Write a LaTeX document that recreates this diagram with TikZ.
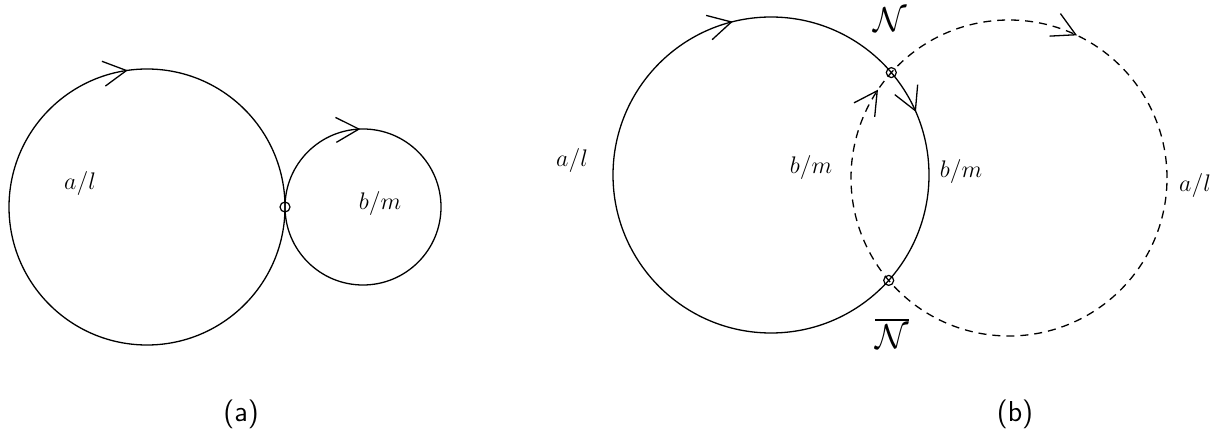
\documentclass[tikz,border=0pt]{standalone}
\usepackage{amsmath,amssymb}
\usepackage{tikz}
\usetikzlibrary{arrows.meta,decorations.markings}

\tikzset{
  orbit/.style={line width=0.65pt},
  dashorbit/.style={orbit,dash pattern=on 4pt off 3pt},
  chevron/.style={postaction={decorate,decoration={markings,
    mark=at position #1 with {\arrowreversed[solid]{Straight Barb[length=11.5pt,width=12.5pt]}}}}},
  crossmark/.style={circle,draw,inner sep=0pt,minimum size=5pt,line width=0.6pt},
  panel/.style={font=\Large\sffamily}
}

\begin{document}
\begin{tikzpicture}[x=0.5pt,y=0.5pt,font=\large]
\useasboundingbox (0,0) rectangle (1213,439);
% (a) two circles touching
\coordinate (A1) at (147,232);
\coordinate (A2) at (363,232);
\draw[orbit,chevron=0.2722] (A1) circle[radius=138];
\draw[orbit,chevron=0.2556] (A2) circle[radius=78];
\node[crossmark] (T) at (285,232) {};
% (b) two circles crossing
\coordinate (B1) at (771,264);
\coordinate (B2) at (1009,261);
\draw[orbit,chevron=0.2889,chevron=0.0653] (B1) circle[radius=158];
\draw[dashorbit,chevron=0.1792,chevron=0.4056] (B2) circle[radius=158];
\node[crossmark] (N) at (891.3,366.4) {};
\node[crossmark] (Nb) at (888.7,158.6) {};
% labels
\foreach \nm/\x/\y/\lab in {la/80/255/{a/l}, lb/380/235/{b/m},
  lc/572/278/{a/l}, ld/811/271/{b/m}, le/961/267/{b/m}, lf/1195/253/{a/l}}{
  \node (\nm) at (\x,\y) {$\lab$};
}
\node[font=\LARGE] (lN) at (890,419) {$\mathcal{N}$};
\node[font=\LARGE] (lNb) at (892,106) {$\overline{\mathcal{N}}$};
\node[panel] (pa) at (241,25) {(a)};
\node[panel] (pb) at (1015,25) {(b)};
\end{tikzpicture}
\end{document}
